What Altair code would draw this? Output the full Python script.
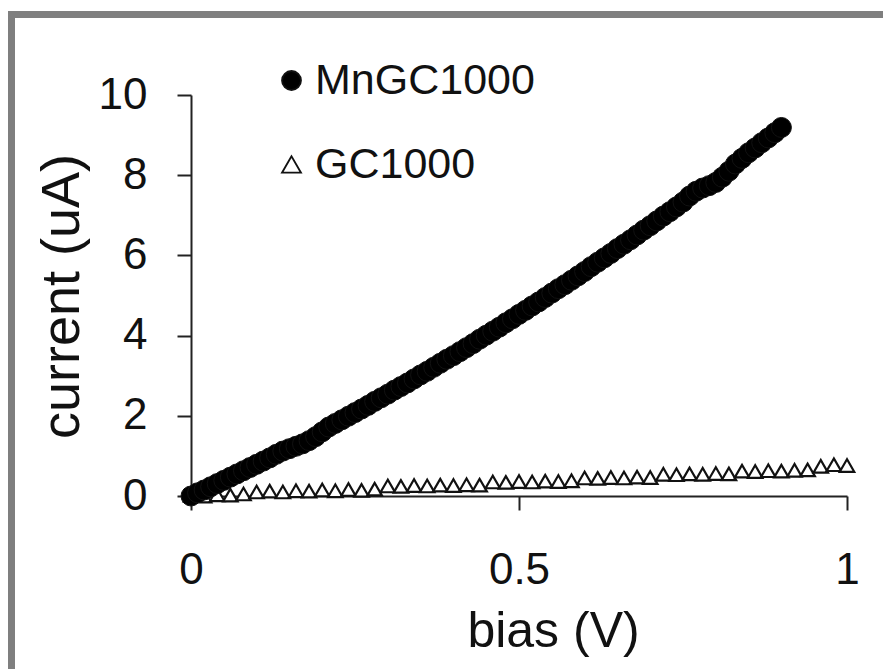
import altair as alt
import pandas as pd

# MnGC1000: bias (V) and current (uA)
mn_bias = [round(i * 0.01, 2) for i in range(91)]
mn_current = [
    0.00, 0.08, 0.15, 0.23, 0.31, 0.39, 0.47, 0.55, 0.63, 0.71,
    0.79, 0.87, 0.95, 1.04, 1.12, 1.18, 1.24, 1.30, 1.38, 1.48,
    1.60, 1.72, 1.81, 1.90, 1.99, 2.08, 2.17, 2.26, 2.36, 2.45,
    2.54, 2.64, 2.73, 2.82, 2.92, 3.02, 3.11, 3.21, 3.31, 3.41,
    3.50, 3.60, 3.70, 3.80, 3.91, 4.01, 4.11, 4.21, 4.32, 4.42,
    4.53, 4.63, 4.74, 4.84, 4.95, 5.06, 5.17, 5.27, 5.38, 5.49,
    5.60, 5.72, 5.83, 5.94, 6.05, 6.17, 6.28, 6.39, 6.51, 6.63,
    6.74, 6.86, 6.98, 7.09, 7.21, 7.33, 7.48, 7.60, 7.68, 7.74,
    7.82, 7.95, 8.10, 8.28, 8.42, 8.56, 8.68, 8.81, 8.93, 9.06,
    9.19,
]

# GC1000: bias (V) and current (uA)
gc_bias = [round(i * 0.02, 2) for i in range(51)]
gc_current = [
    0.02, 0.00, 0.03, 0.02, 0.05, 0.10, 0.12, 0.10, 0.13, 0.12,
    0.15, 0.13, 0.16, 0.14, 0.17, 0.25, 0.24, 0.26, 0.25, 0.27,
    0.26, 0.28, 0.27, 0.35, 0.34, 0.36, 0.35, 0.37, 0.36, 0.38,
    0.45, 0.44, 0.46, 0.45, 0.47, 0.46, 0.54, 0.53, 0.55, 0.54,
    0.56, 0.55, 0.62, 0.61, 0.63, 0.62, 0.64, 0.65, 0.74, 0.78,
    0.76,
]

series_names = ["MnGC1000", "GC1000"]
x_ticks = [0, 0.5, 1]
y_ticks = [0, 2, 4, 6, 8, 10]

mn_df = pd.DataFrame({"bias": mn_bias, "current": mn_current, "series": "MnGC1000"})
gc_df = pd.DataFrame({"bias": gc_bias, "current": gc_current, "series": "GC1000"})

FONT = "Liberation Sans"

x_enc = alt.X("bias:Q",
              scale=alt.Scale(domain=[0, 1], nice=False, zero=False),
              axis=alt.Axis(values=x_ticks, format="~g", title="bias (V)",
                            grid=False, tickSize=14, tickWidth=2,
                            domainWidth=2, domainColor="#222222", tickColor="#222222",
                            labelFontSize=44, labelPadding=38, labelColor="#111111",
                            labelFont=FONT, titleFont=FONT, titleFontSize=50,
                            titleFontWeight="normal", titleColor="#111111",
                            titleX=362, titleY=150, titleAlign="center",
                            titleBaseline="alphabetic", labelFlush=False))
y_enc = alt.Y("current:Q",
              scale=alt.Scale(domain=[0, 10], nice=False),
              axis=alt.Axis(values=y_ticks, format="d", title="current (uA)",
                            grid=False, tickSize=14, tickWidth=2,
                            domainWidth=2, domainColor="#222222", tickColor="#222222",
                            labelFontSize=44, labelPadding=30, labelColor="#111111",
                            labelFont=FONT, titleFont=FONT, titleFontSize=54,
                            titleFontWeight="normal", titleColor="#111111",
                            titleX=-113, titleY=201, titleAngle=270,
                            titleAlign="center", titleBaseline="alphabetic",
                            labelFlush=False))

legend = alt.Legend(title=None, orient="none", legendX=79, legendY=-36,
                    symbolSize=360, symbolStrokeColor="#111111",
                    symbolStrokeWidth=1.8, labelFontSize=43,
                    labelFont=FONT, labelColor="#111111", labelLimit=500,
                    labelOffset=2, rowPadding=40, padding=0)

shape_enc = alt.Shape("series:N",
                      scale=alt.Scale(domain=series_names, range=["circle", "triangle-up"]),
                      legend=legend)
fill_enc = alt.Fill("series:N",
                    scale=alt.Scale(domain=series_names, range=["#000000", "#ffffff"]),
                    legend=legend)
stroke_enc = alt.Stroke("series:N",
                        scale=alt.Scale(domain=series_names, range=["#111111", "#111111"]),
                        legend=legend)

gc_layer = alt.Chart(gc_df).mark_point(
    filled=True, opacity=1, strokeWidth=2.2, size=210, clip=False
).encode(x=x_enc, y=y_enc, shape=shape_enc, fill=fill_enc, stroke=stroke_enc)

mn_layer = alt.Chart(mn_df).mark_point(
    filled=True, opacity=1, strokeWidth=1, size=400, clip=False
).encode(x=x_enc, y=y_enc, shape=shape_enc, fill=fill_enc, stroke=stroke_enc)

frame = alt.Chart(alt.Data(values=[{}])).mark_rect(
    fill="transparent", stroke="#7f7f7f", strokeWidth=7, clip=False
).encode(
    x=alt.value(-179.5), x2=alt.value(720),
    y=alt.value(-80.5), y2=alt.value(600),
)

chart = alt.layer(frame, gc_layer, mn_layer).properties(
    width=656, height=401,
    autosize=alt.AutoSizeParams(type="none"),
    padding={"left": 191, "top": 95, "right": 36, "bottom": 173},
    background="white",
).configure_view(stroke=None)

chart.save("out.html", embed_options={"renderer": "svg", "actions": False})
